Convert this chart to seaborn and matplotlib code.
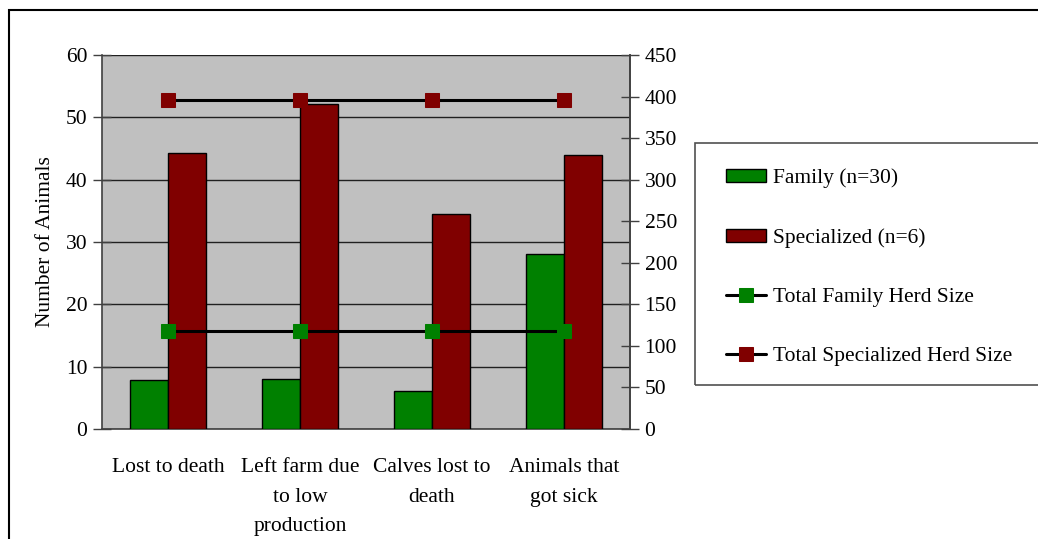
import numpy as np
import pandas as pd
import matplotlib
matplotlib.use("Agg")
import matplotlib.pyplot as plt
from matplotlib.patches import Rectangle
import seaborn as sns

# ---- data ----
categories = ["Lost to death", "Left farm due\nto low\nproduction",
              "Calves lost to\ndeath", "Animals that\ngot sick"]
family_counts = [7.8, 8.0, 6.1, 28.0]
specialized_counts = [44.3, 52.1, 34.5, 43.9]
family_herd_size = [118, 118, 118, 118]
specialized_herd_size = [396, 396, 396, 396]
group_labels = ["Family (n=30)", "Specialized (n=6)"]
line_labels = ["Total Family Herd Size", "Total Specialized Herd Size"]
left_ticks = [0, 10, 20, 30, 40, 50, 60]
right_ticks = [0, 50, 100, 150, 200, 250, 300, 350, 400, 450]

GREEN = "#008000"
RED = "#800000"
PLOT_BG = "#C0C0C0"
AXIS_GREY = "#404040"
FS = 15.5

sns.set_theme(style="white")
plt.rcParams["font.family"] = ["Liberation Serif", "DejaVu Serif"]
plt.rcParams["font.size"] = FS
plt.rcParams["text.color"] = "black"
plt.rcParams["axes.labelcolor"] = "black"
plt.rcParams["xtick.labelcolor"] = "black"
plt.rcParams["ytick.labelcolor"] = "black"

bars = pd.DataFrame({
    "category": categories * 2,
    "group": [group_labels[0]] * 4 + [group_labels[1]] * 4,
    "count": family_counts + specialized_counts,
})

fig = plt.figure(figsize=(10.38, 5.39), dpi=100)
ax = fig.add_axes([102 / 1038, 1 - 429 / 539, (630 - 102) / 1038, (429 - 55) / 539])
ax.set_facecolor(PLOT_BG)

sns.barplot(data=bars, x="category", y="count", hue="group",
            palette=[GREEN, RED], width=0.576, gap=0, edgecolor="black",
            linewidth=1.0, saturation=1, ax=ax, legend=True, zorder=3)

ax.set_ylim(0, 60)
ax.set_xlim(-0.5, len(categories) - 0.5)
ax.set_yticks(left_ticks)
ax.yaxis.grid(True, color="#202020", linewidth=1.0, zorder=0)
ax.set_axisbelow(True)
ax.set_ylabel("Number of Animals", fontsize=FS, labelpad=8, color="black")
ax.set_xlabel("")

# category labels centred, boundary tick marks as minor ticks
ax.set_xticks(range(len(categories)))
ax.set_xticklabels(categories, linespacing=1.74, va="top")
ax.set_xticks(np.arange(-0.5, len(categories)), minor=True)
ax.tick_params(axis="x", which="major", length=0, pad=21, labelsize=FS,
               labelcolor="black")
ax.tick_params(axis="x", which="minor", direction="inout", length=14,
               width=1, color=AXIS_GREY)
ax.tick_params(axis="y", direction="inout", length=13, width=1,
               color=AXIS_GREY, labelsize=FS, pad=4, labelcolor="black")

for side in ("left", "bottom", "right"):
    ax.spines[side].set_color(AXIS_GREY)
    ax.spines[side].set_linewidth(1.2)
ax.spines["top"].set_visible(False)

# secondary axis for herd sizes
ax2 = ax.twinx()
pos = np.arange(len(categories))
sns.lineplot(x=pos, y=family_herd_size, color="black", linewidth=2.2,
             marker="s", markersize=9.5, markerfacecolor=GREEN,
             markeredgecolor=GREEN, label=line_labels[0], ax=ax2, zorder=5)
sns.lineplot(x=pos, y=specialized_herd_size, color="black", linewidth=2.2,
             marker="s", markersize=9.5, markerfacecolor=RED,
             markeredgecolor=RED, label=line_labels[1], ax=ax2, zorder=5)
ax2.set_ylim(0, 450)
ax2.set_yticks(right_ticks)
ax2.tick_params(axis="y", direction="inout", length=13, width=1,
                color=AXIS_GREY, labelsize=FS, pad=4, labelcolor="black")
for side in ("left", "bottom", "top"):
    ax2.spines[side].set_visible(False)
ax2.spines["right"].set_color(AXIS_GREY)
ax2.spines["right"].set_linewidth(1.2)
ax2.set_xlim(-0.5, len(categories) - 0.5)

# combined legend outside the plot area
h1, l1 = ax.get_legend_handles_labels()
h2, l2 = ax2.get_legend_handles_labels()
ax.get_legend().remove()
ax2.get_legend().remove()
fig.legend(h1 + h2, l1 + l2, loc="upper left",
           bbox_to_anchor=(726 / 1038, 1 - 168 / 539), frameon=False,
           fontsize=FS, labelspacing=1.87, handlelength=1.85,
           handleheight=0.55, handletextpad=0.35, borderpad=0,
           borderaxespad=0)
fig.add_artist(Rectangle((695 / 1038, 1 - 385 / 539), 0.4, (385 - 143) / 539,
                         transform=fig.transFigure, fill=False,
                         edgecolor="#505050", linewidth=1.2))

# outer chart border
fig.add_artist(Rectangle((9 / 1038, -0.05), 1.0, 1.05 - 10 / 539,
                         transform=fig.transFigure, fill=False,
                         edgecolor="black", linewidth=1.5))

fig.savefig("out.png", dpi=100, facecolor="white")
